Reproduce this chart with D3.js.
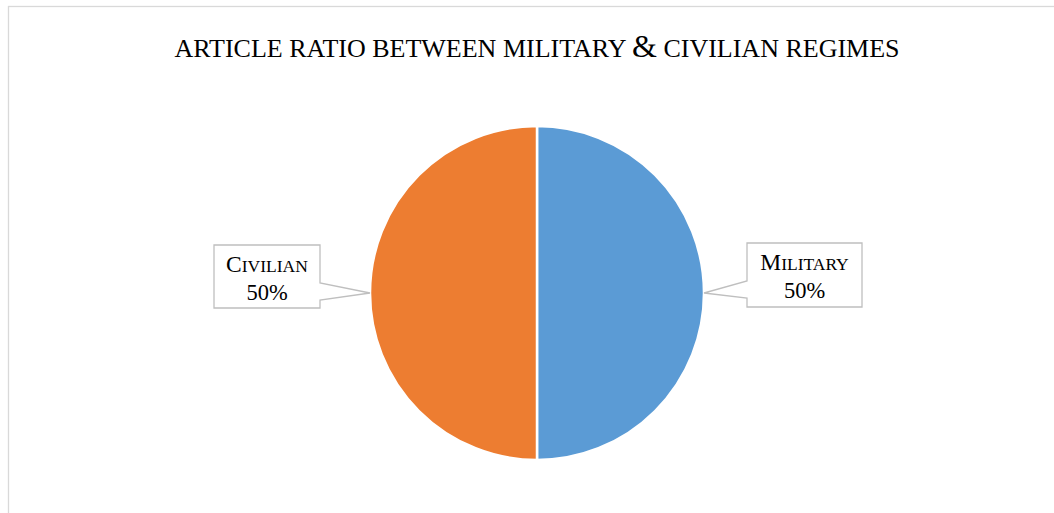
<!DOCTYPE html>
<html><head><meta charset="utf-8">
<script src="https://cdn.jsdelivr.net/npm/d3@7"></script>
<style>body{margin:0;background:#fff}svg{display:block}</style>
</head><body>
<svg id="c" width="1054" height="513"></svg>
<script>
const categories = ["Military", "Civilian"];
const values = [50, 50];
const colors = ["#5B9BD5", "#ED7D31"];
const titleParts = ["ARTICLE RATIO BETWEEN MILITARY ", "&", " CIVILIAN REGIMES"];

const svg = d3.select("#c");
const W = 1054, H = 513;
const serif = "Liberation Serif, Times New Roman, serif";
// chart area border
svg.append("rect").attr("x", 8.5).attr("y", 6.5).attr("width", W + 10).attr("height", H + 10)
  .attr("fill", "#fff").attr("stroke", "#D9D9D9").attr("stroke-width", 1.3);

const tt = svg.append("text").attr("x", 537).attr("y", 57).attr("text-anchor", "middle")
  .attr("font-family", serif).attr("font-size", 26).attr("fill", "#000");
tt.append("tspan").text(titleParts[0]);
tt.append("tspan").attr("font-size", 32).text(titleParts[1]);
tt.append("tspan").text(titleParts[2]);

const cx = 537, cy = 293, r = 167;
const pie = d3.pie().sort(null).value(d => d)(values);
const arc = d3.arc().innerRadius(0).outerRadius(r);
const g = svg.append("g").attr("transform", `translate(${cx},${cy})`);
g.selectAll("path").data(pie).enter().append("path")
  .attr("d", arc).attr("fill", (d, i) => colors[i])
  .attr("stroke", "#fff").attr("stroke-width", 2.5);

// callouts
const total = d3.sum(values);
const callouts = [
  {box: [747, 243, 115, 64], side: "left"},
  {box: [214, 245, 106, 63], side: "right"}
];
pie.forEach((d, i) => {
  const mid = (d.startAngle + d.endAngle) / 2;
  const tip = [cx + Math.sin(mid) * r, cy - Math.cos(mid) * r];
  const [bx, by, bw, bh] = callouts[i].box;
  const y1 = by + 38, y2 = by + 55;
  let pts;
  if (callouts[i].side === "left") {
    pts = [[bx, by], [bx + bw, by], [bx + bw, by + bh], [bx, by + bh], [bx, y2], tip, [bx, y1]];
  } else {
    pts = [[bx, by], [bx + bw, by], [bx + bw, y1], tip, [bx + bw, y2], [bx + bw, by + bh], [bx, by + bh]];
  }
  svg.append("path").attr("d", d3.line()(pts) + "Z")
    .attr("fill", "#fff").attr("stroke", "#BFBFBF").attr("stroke-width", 1.3);
  const name = categories[i].toUpperCase();
  const tx = bx + bw / 2;
  const t = svg.append("text").attr("x", tx).attr("y", by + 27).attr("text-anchor", "middle")
    .attr("font-family", serif).attr("fill", "#000");
  t.append("tspan").attr("font-size", 23.5).text(name[0]);
  t.append("tspan").attr("font-size", 17.5).text(name.slice(1));
  svg.append("text").attr("x", tx).attr("y", by + 55).attr("text-anchor", "middle")
    .attr("font-family", serif).attr("font-size", 22.5)
    .attr("fill", "#000").text(Math.round(values[i] / total * 100) + "%");
});
</script>
</body></html>
